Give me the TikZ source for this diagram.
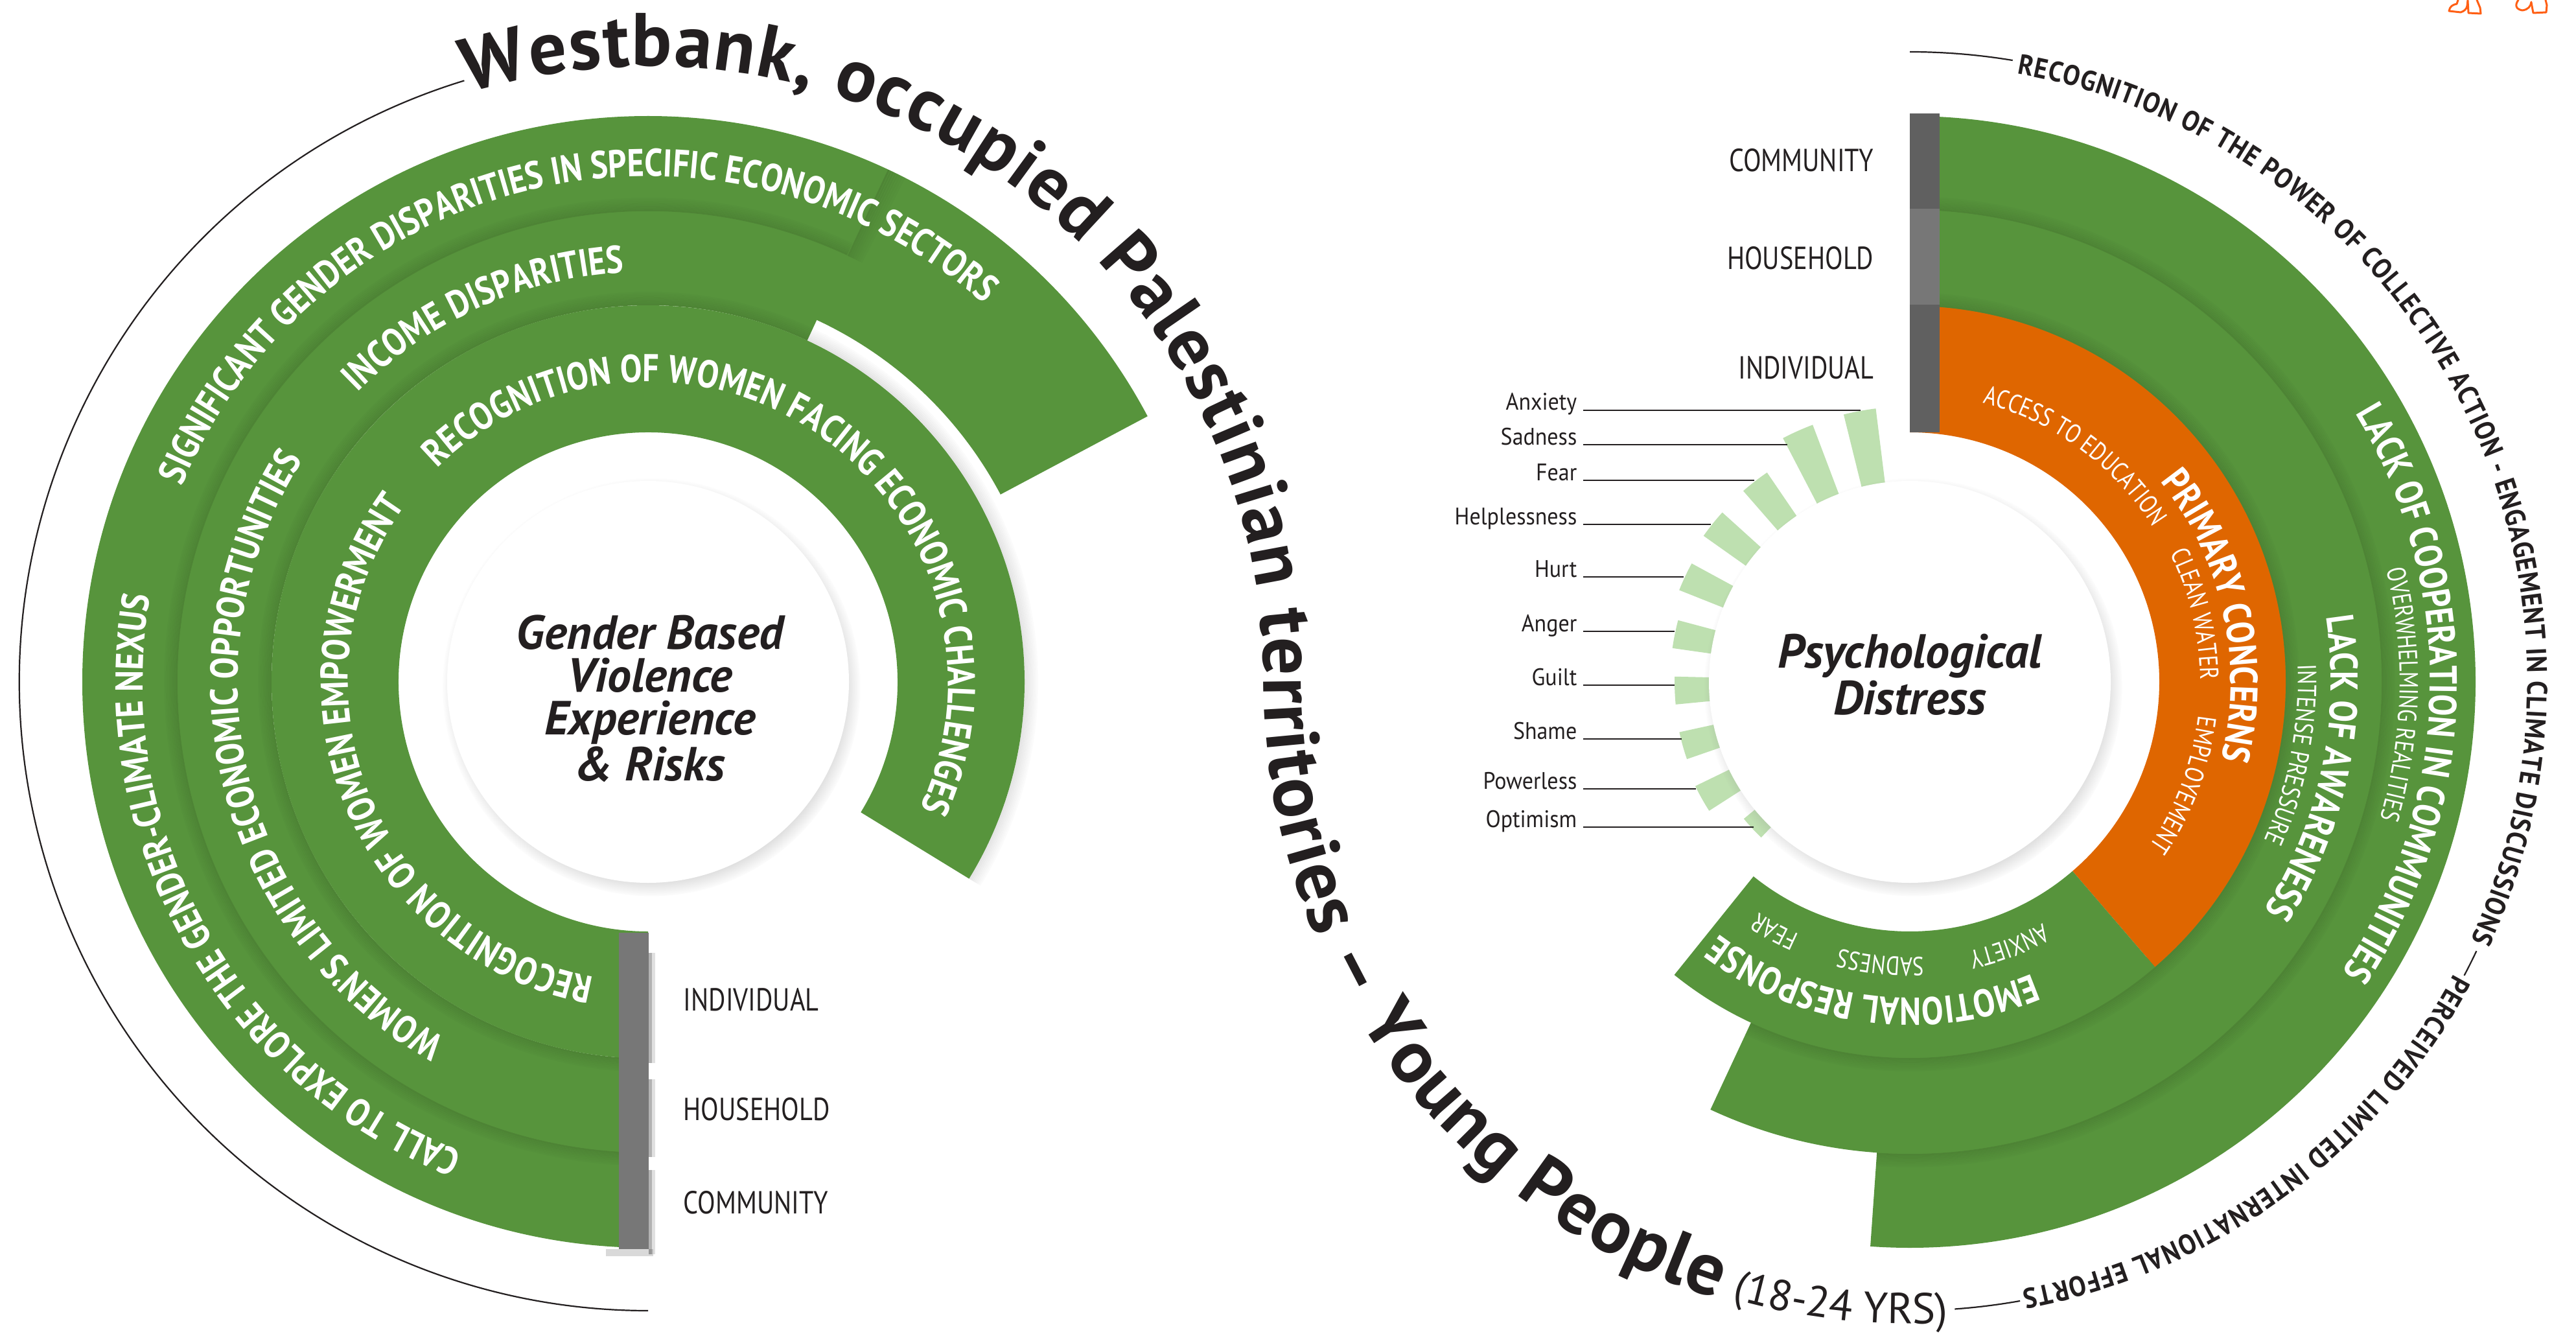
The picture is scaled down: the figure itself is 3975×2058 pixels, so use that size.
\documentclass[tikz,border=0pt]{standalone}
\usepackage{fontspec}
\setmainfont{PT Sans}
\newfontfamily\ringfont[FakeStretch=0.84]{PT Sans}
\newfontfamily\smallfont[FakeStretch=0.80]{PT Sans}
\newfontfamily\lblfont[FakeStretch=0.82]{PT Sans}
\newfontfamily\emofont[FakeStretch=0.92]{PT Sans}
\newfontfamily\capfont[FakeStretch=0.90]{PT Sans}
\usetikzlibrary{calc,decorations.text,shadows}
\definecolor{ringgreen}{RGB}{87,148,60}
\definecolor{ringorange}{RGB}{223,102,0}
\definecolor{tickgreen}{RGB}{190,224,176}
\definecolor{bargray}{RGB}{119,119,119}
\definecolor{bardark}{RGB}{96,96,96}
\definecolor{inkdark}{RGB}{35,31,32}
\definecolor{doodle}{RGB}{255,95,20}
\newcommand\myTitleFont{\bfseries\fontsize{33}{33}\selectfont\color{inkdark}}
\newcommand\myYrsFont{\fontsize{19}{19}\selectfont\color{inkdark}}
\newcommand\myCapFont{\capfont\bfseries\fontsize{12.4}{12.4}\selectfont\color{inkdark}}
\newcommand\myBoldRing{\ringfont\bfseries\fontsize{17}{17}\selectfont\color{white}}
\newcommand\mySmallRing{\smallfont\fontsize{11.5}{11.5}\selectfont\color{white}}
% annular sector: style, center, a1, a2, r1, r2
\newcommand\annsec[6]{%
  \fill[#1] ($(#2)+(#3:#5)$) arc[start angle=#3,end angle=#4,radius=#5]
    -- ($(#2)+(#4:#6)$) arc[start angle=#4,end angle=#3,radius=#6] -- cycle;}
% soft shadow just outside radius #4
\newcommand\ringshadow[4]{%
  \foreach \k [evaluate=\k as \op using 0.10-0.012*\k] in {0,...,7}{%
    \draw[black, opacity=\op, line width=0.026cm]
      ($(#1)+(#2:{#4+1.3+2.6*\k})$) arc[start angle=#2,end angle=#3,radius={#4+1.3+2.6*\k}];}}
% text centred on arc: center, radius, a1, a2, format, text (path extended on both sides)
\newcommand\arctext[6]{%
  \pgfmathsetmacro\aA{#3+((#3>#4)?8:-8)}%
  \pgfmathsetmacro\aB{#4+((#3>#4)?-8:8)}%
  \path[decorate,decoration={text along path,text align=center,text={|#5|#6}}]
    ($(#1)+(\aA:#2)$) arc[start angle=\aA,end angle=\aB,radius=#2];}
% text fitted exactly between a1 and a2
\newcommand\arcfit[6]{%
  \path[decorate,decoration={text along path,text align={fit to path},text={|#5|#6}}]
    ($(#1)+(#3:#2)$) arc[start angle=#3,end angle=#4,radius=#2];}
\tikzset{
  lvl/.style={font=\lblfont\fontsize{14}{14}\selectfont, text=inkdark, inner sep=0pt},
  emo/.style={font=\emofont\fontsize{10.5}{10.5}\selectfont, text=inkdark, inner sep=0pt},
  hub/.style={align=center, font=\bfseries\itshape\fontsize{21}{18.8}\selectfont, text=inkdark, inner sep=0pt},
  guide/.style={draw=inkdark, line width=0.022cm},
  leader/.style={draw=inkdark, line width=0.014cm},
  doodleline/.style={draw=doodle, line width=0.03cm, line join=round, line cap=round},
  hubdisc/.style={fill=white, circular drop shadow={shadow xshift=0.05cm, shadow yshift=-0.08cm, shadow scale=1.04, opacity=0.5}}
}
\begin{document}
\begin{tikzpicture}[x=0.01cm,y=0.01cm]
\useasboundingbox (0,0) rectangle (3975,-2058);
\fill[white] (0,0) rectangle (3975,-2058);
\coordinate (L) at (1000,-1052);
\coordinate (R) at (2947,-1052);

% ================= LEFT DIAGRAM =================
\annsec{ringgreen}{L}{28}{270}{616}{873}
\ringshadow{L}{65}{270}{726}
\annsec{ringgreen}{L}{65}{270}{581}{726}
\foreach \k [evaluate=\k as \op using 0.10-0.012*\k] in {0,...,7}{%
  \draw[black, opacity=\op, line width=0.03cm] ($(L)+({64.8-0.25*\k}:726)$) -- ($(L)+({64.8-0.25*\k}:873)$);}
\ringshadow{L}{-31.5}{270}{581}
\annsec{ringgreen}{L}{-31.5}{270}{385}{581}
\fill[hubdisc] (L) circle[radius=310];

% gray level bars (left)
\foreach \ya/\yb in {1470/1640,1665/1785,1805/1935}{%
  \fill[black,opacity=0.30] (1001,-\ya) rectangle (1006,-\yb);
  \fill[black,opacity=0.12] (1006,-\ya) rectangle (1011,-\yb);}
\fill[black,opacity=0.15] (935,-1927) rectangle (1008,-1938);
\fill[bargray] (955,-1439) rectangle (1001,-1635);
\fill[bargray] (955,-1635) rectangle (1001,-1780);
\fill[bargray] (955,-1780) rectangle (1001,-1927);

% ring texts (left)
\arctext{L}{780}{163}{42.6}{\myBoldRing}{SIGNIFICANT GENDER DISPARITIES IN SPECIFIC ECONOMIC SECTORS}
\arctext{L}{780}{251.3}{167.3}{\myBoldRing}{CALL TO EXPLORE THE GENDER-CLIMATE NEXUS}
\arctext{L}{633}{137.9}{90.6}{\myBoldRing}{INCOME DISPARITIES}
\arctext{L}{633}{246}{141.7}{\myBoldRing}{WOMEN’S LIMITED ECONOMIC OPPORTUNITIES}
\arctext{L}{463}{138}{-28.3}{\myBoldRing}{RECOGNITION OF WOMEN FACING ECONOMIC CHALLENGES}
\arctext{L}{463}{261.6}{142}{\myBoldRing}{RECOGNITION OF WOMEN EMPOWERMENT}

\node[hub] (gbv) at (1003,-1078) {Gender Based\\Violence\\Experience\\\& Risks};

\node[lvl, anchor=west] (lInd) at (1054,-1542) {INDIVIDUAL};
\node[lvl, anchor=west] (lHou) at (1054,-1711) {HOUSEHOLD};
\node[lvl, anchor=west] (lCom) at (1054,-1855) {COMMUNITY};

% outer guide arc (left)
\draw[guide] ($(L)+(107:970)$) arc[start angle=107,end angle=270,radius=970];

% ================= RIGHT DIAGRAM =================
\annsec{ringgreen}{R}{-94}{90}{700}{873}
\ringshadow{R}{-94}{90}{728}
\annsec{ringgreen}{R}{-115}{90}{560}{728}
\ringshadow{R}{-115}{90}{580}
\annsec{ringorange}{R}{-49.3}{90}{385}{580}
\annsec{ringgreen}{R}{-128.8}{-49.3}{385}{580}

% emotion ticks
\foreach \c/\ro in {100.5/425,114.1/424,127.7/391,141.3/390,154.9/383,168.5/370,182.1/363,195.7/364,209.3/368,222.9/332}{%
  \annsec{tickgreen}{R}{\c-3.4}{\c+3.4}{290}{\ro}}
\fill[hubdisc] (R) circle[radius=310];

% gray level bars (right)
\fill[bardark] (2947,-175) rectangle (2993,-322);
\fill[bargray] (2947,-322) rectangle (2993,-470);
\fill[bardark] (2947,-470) rectangle (2993,-667);

\node[lvl, anchor=east] (rCom) at (2892,-247) {COMMUNITY};
\node[lvl, anchor=east] (rHou) at (2892,-398) {HOUSEHOLD};
\node[lvl, anchor=east] (rInd) at (2892,-567) {INDIVIDUAL};

% ring texts (right)
\arctext{R}{495}{36.5}{-11.8}{\myBoldRing}{PRIMARY CONCERNS}
\arctext{R}{445}{77}{30.8}{\mySmallRing}{ACCESS TO EDUCATION}
\arctext{R}{448}{26.5}{0.2}{\mySmallRing}{CLEAN WATER}
\arctext{R}{448}{-6.4}{-34.8}{\mySmallRing}{EMPLOYEMENT}
\arctext{R}{650}{8.6}{-32.5}{\myBoldRing}{LACK OF AWARENESS}
\arctext{R}{599}{3}{-24.5}{\mySmallRing}{INTENSE PRESSURE}
\arctext{R}{803}{33.8}{-36.5}{\myBoldRing}{LACK OF COOPERATION IN COMMUNITIES}
\arctext{R}{756}{14}{-16.9}{\mySmallRing}{OVERWHELMING REALITIES}
\arctext{R}{488}{-69.8}{-124.5}{\myBoldRing}{EMOTIONAL RESPONSE}
\arctext{R}{425}{-59.3}{-79.5}{\mySmallRing}{ANXIETY}
\arctext{R}{425}{-86}{-105.9}{\mySmallRing}{SADNESS}
\arctext{R}{425}{-111.8}{-125.3}{\mySmallRing}{FEAR}

\node[hub] (psy) at (2947,-1041) {Psychological\\Distress};

% emotion labels with leaders
\foreach \nm/\txt/\yy/\xe in {eA/Anxiety/633/2871, eB/Sadness/686/2758, eC/Fear/741/2707,
  eD/Helplessness/809/2640, eE/Hurt/890/2598, eF/Anger/974/2584, eG/Guilt/1057/2584,
  eH/Shame/1140/2595, eI/Powerless/1217/2617, eJ/Optimism/1276/2706}{%
  \node[emo, anchor=base east] (\nm) at (2434,-\yy) {\txt};
  \coordinate (\nm-end) at (\xe,-\yy);
  \draw[leader] ($(\nm.base east)+(9,0)$) -- (\nm-end);}

% outer caption arcs (right)
\draw[guide] ($(R)+(90:972)$) arc[start angle=90,end angle=80.6,radius=972];
\arcfit{R}{953}{80}{-24.6}{\myCapFont}{RECOGNITION OF THE POWER OF COLLECTIVE ACTION - ENGAGEMENT IN CLIMATE DISCUSSIONS}
\draw[guide] ($(R)+(-25.4:968)$) arc[start angle=-25.4,end angle=-27.9,radius=968];
\arcfit{R}{953}{-28.2}{-79.5}{\myCapFont}{PERCEIVED LIMITED INTERNATIONAL EFFORTS}
\draw[guide] ($(R)+(-79.9:970)$) arc[start angle=-79.9,end angle=-85.9,radius=970];

% ================= TITLE =================
\path[decorate,decoration={text along path,text align={fit to path},
  text={|\myTitleFont|Westbank, occupied Palestinian territories – Young People}}]
  ($(L)+(107:950)$) arc[start angle=107,end angle=0,radius=950]
  arc[start angle=180,end angle=252.6,radius=997];
\arctext{R}{990}{254}{273.3}{\myYrsFont}{(18-24 YRS)}

% ================= corner doodles =================
\draw[doodleline] (3793,0) -- (3791,-6) .. controls (3785,-7) and (3780,-10) .. (3779,-17)
  -- (3797,-19) .. controls (3803,-17) and (3806,-14) .. (3807,-9) -- (3808,0);
\draw[doodleline] (3808,-2) -- (3809,-20) -- (3828,-21) -- (3827,-12) -- (3822,0);
\draw[doodleline] (3886,0) .. controls (3881,-7) and (3881,-14) .. (3892,-16)
  .. controls (3901,-15) and (3905,-10) .. (3906,-3);
\draw[doodleline] (3906,-4) -- (3909,-20) -- (3929,-19) -- (3930,-8) -- (3928,0);
\end{tikzpicture}
\end{document}
